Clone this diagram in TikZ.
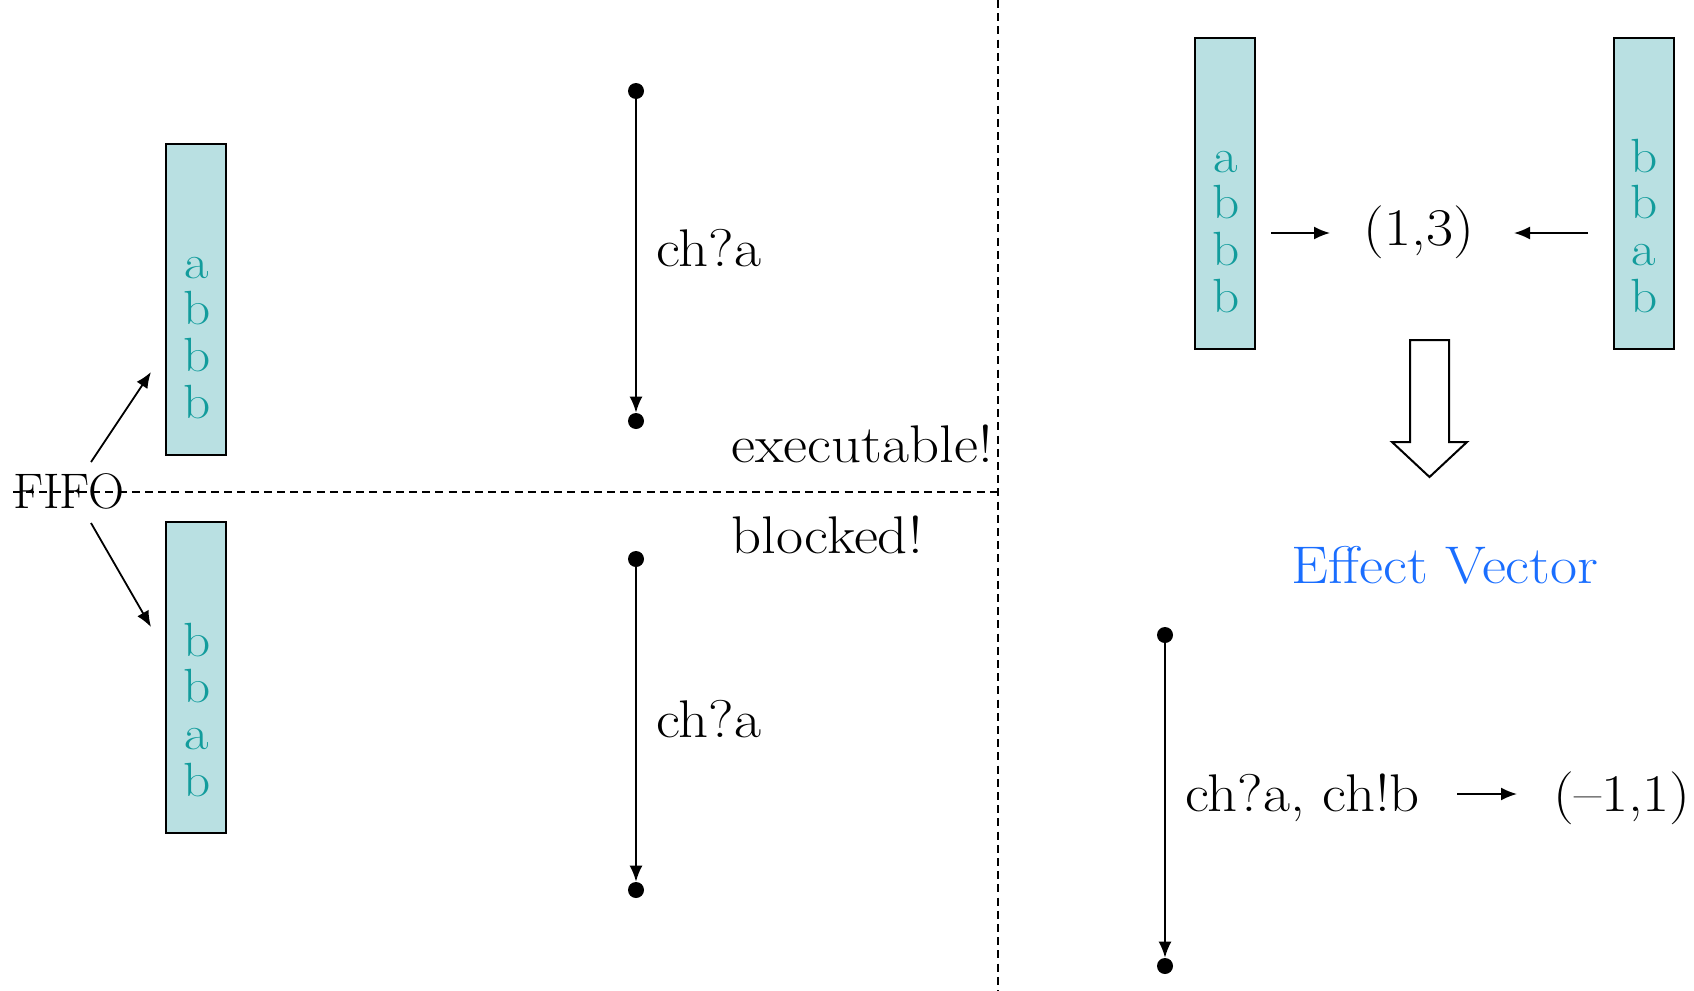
\documentclass[tikz,border=0pt]{standalone}
\usepackage{fontspec}
\newfontfamily\widefont{Latin Modern Roman}[FakeStretch=1.11]
\usetikzlibrary{arrows.meta}
\definecolor{qfill}{RGB}{185,224,226}
\definecolor{qtext}{RGB}{18,156,156}
\definecolor{evblue}{RGB}{26,110,255}
\begin{document}
\begin{tikzpicture}[x=0.5pt,y=-0.5pt,
  qbox/.style={draw=black,line width=1pt,fill=qfill,minimum width=30pt,minimum height=155.5pt,inner sep=0pt},
  qlet/.style={text=qtext,font=\widefont\fontsize{24}{24}\selectfont,anchor=base,inner sep=0pt},
  lbl/.style={font=\widefont\fontsize{26.5}{30}\selectfont,inner sep=0pt,anchor=base west},
  dot/.style={circle,fill=black,minimum size=8pt,inner sep=0pt},
  tr/.style={line width=0.9pt,-{Latex[length=8pt,width=6.5pt]}},
  sep/.style={line width=0.6pt,dash pattern=on 4pt off 2.6pt}]
\useasboundingbox (0,0) rectangle (1694,991);

% left boxes
\node[qbox] (q1) at (196,299.5) {};
\node[qlet] (q1a) at (197,278) {a};
\node[qlet] (q1b) at (197,324.5) {b};
\node[qlet] (q1c) at (197,371) {b};
\node[qlet] (q1d) at (197,418) {b};
\node[qbox] (q2) at (196,677.5) {};
\node[qlet] (q2a) at (197,656) {b};
\node[qlet] (q2b) at (197,702.5) {b};
\node[qlet] (q2c) at (197,749) {a};
\node[qlet] (q2d) at (197,796) {b};

% FIFO
\node[font=\fontsize{25}{30}\selectfont,inner sep=0pt,anchor=base west] (fifo) at (13,508) {FIFO};
\coordinate (f1s) at (91,462);
\coordinate (f1e) at (151,372);
\coordinate (f2s) at (91,523);
\coordinate (f2e) at (151,627);
\draw[tr] (f1s) -- (f1e);
\draw[tr] (f2s) -- (f2e);

% separators
\coordinate (vtop) at (998,0);
\coordinate (vbot) at (998,991);
\coordinate (hl) at (13,492);
\coordinate (hr) at (998,492);
\draw[sep] (vtop) -- (vbot);
\draw[sep] (hl) -- (hr);

% transitions left
\node[dot] (t1) at (636,91) {};
\node[dot] (b1) at (636,421) {};
\draw[tr] (t1) -- (b1);
\node[lbl] (l1) at (656,266) {ch?a};
\node[dot] (t2) at (636,559) {};
\node[dot] (b2) at (636,890) {};
\draw[tr] (t2) -- (b2);
\node[lbl] (l2) at (656,737) {ch?a};
\node[lbl] (ex) at (731,462) {executable!};
\node[lbl] (bl) at (731,553) {blocked!};

% right boxes
\node[qbox] (q3) at (1225,193.5) {};
\node[qlet] (q3a) at (1226,172) {a};
\node[qlet] (q3b) at (1226,218.5) {b};
\node[qlet] (q3c) at (1226,265) {b};
\node[qlet] (q3d) at (1226,312) {b};
\node[qbox] (q4) at (1643.5,193.5) {};
\node[qlet] (q4a) at (1644,172) {b};
\node[qlet] (q4b) at (1644,218.5) {b};
\node[qlet] (q4c) at (1644,265) {a};
\node[qlet] (q4d) at (1644,312) {b};

\node[font=\widefont\fontsize{26.5}{30}\selectfont,inner sep=0pt] (v13) at (1419,232) {(1,3)};
\coordinate (a1s) at (1271,233);
\coordinate (a1e) at (1330,233);
\coordinate (a2s) at (1588,233);
\coordinate (a2e) at (1514,233);
\draw[tr] (a1s) -- (a1e);
\draw[tr] (a2s) -- (a2e);

% block arrow
\draw[line width=1pt,fill=white,line join=miter]
  (1410,340) -- (1449,340) -- (1449,442) -- (1467,442) -- (1429.5,477)
  -- (1392,442) -- (1410,442) -- cycle;

\node[font=\widefont\fontsize{26.5}{30}\selectfont,inner sep=0pt,anchor=base,text=evblue] (ev) at (1445,583) {Effect Vector};

% transition right
\node[dot] (t3) at (1165,635) {};
\node[dot] (b3) at (1165,966) {};
\draw[tr] (t3) -- (b3);
\node[lbl] (l3) at (1185,811) {ch?a, ch!b};
\coordinate (a3s) at (1457,794);
\coordinate (a3e) at (1517,794);
\draw[tr] (a3s) -- (a3e);
\node[lbl] (v11) at (1553,811) {(\textendash1,1)};
\end{tikzpicture}
\end{document}
